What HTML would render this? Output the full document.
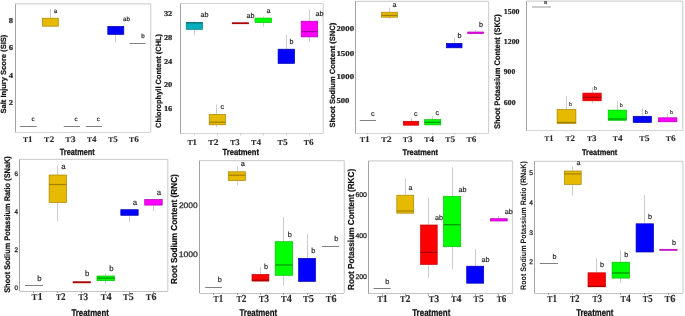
<!DOCTYPE html>
<html><head><meta charset="utf-8"><style>
html,body{margin:0;padding:0;background:#fff;}
body{width:685px;height:316px;overflow:hidden;font-family:"Liberation Sans",sans-serif;}
svg{text-rendering:geometricPrecision;}
#w{width:685px;height:316px;will-change:transform;}
svg{display:block;}
</style></head><body>
<div id="w"><svg width="685" height="316" viewBox="0 0 685 316">
<rect x="0" y="0" width="685" height="316" fill="#fff"/>
<g>
<line x1="15.3" y1="3.8" x2="150.7" y2="3.8" stroke="#d2d2d2" stroke-width="1.2"/>
<line x1="150.7" y1="3.8" x2="150.7" y2="132.2" stroke="#d2d2d2" stroke-width="1.2"/>
<line x1="15.3" y1="132.5" x2="150.7" y2="132.5" stroke="#d6d6d6" stroke-width="1"/>
<line x1="15.5" y1="3.8" x2="15.5" y2="132.2" stroke="#a4a4a4" stroke-width="1"/>
<line x1="28.5" y1="132.2" x2="28.5" y2="133.2" stroke="#dddddd" stroke-width="1"/>
<line x1="50.5" y1="132.2" x2="50.5" y2="133.2" stroke="#dddddd" stroke-width="1"/>
<line x1="71.5" y1="132.2" x2="71.5" y2="133.2" stroke="#dddddd" stroke-width="1"/>
<line x1="93.5" y1="132.2" x2="93.5" y2="133.2" stroke="#dddddd" stroke-width="1"/>
<line x1="115.5" y1="132.2" x2="115.5" y2="133.2" stroke="#dddddd" stroke-width="1"/>
<line x1="137.5" y1="132.2" x2="137.5" y2="133.2" stroke="#dddddd" stroke-width="1"/>
<text x="8.8" y="22.7" font-family="Liberation Serif" font-size="7.5" font-weight="bold" fill="#222" textLength="4.3" lengthAdjust="spacingAndGlyphs" stroke="#222" stroke-width="0.2">8</text>
<text x="8.8" y="50.3" font-family="Liberation Serif" font-size="7.5" font-weight="bold" fill="#222" textLength="4.3" lengthAdjust="spacingAndGlyphs" stroke="#222" stroke-width="0.2">6</text>
<text x="8.8" y="77.9" font-family="Liberation Serif" font-size="7.5" font-weight="bold" fill="#222" textLength="4.3" lengthAdjust="spacingAndGlyphs" stroke="#222" stroke-width="0.2">4</text>
<text x="8.8" y="105.2" font-family="Liberation Serif" font-size="7.5" font-weight="bold" fill="#222" textLength="4.3" lengthAdjust="spacingAndGlyphs" stroke="#222" stroke-width="0.2">2</text>
<text x="0" y="0" font-family="Liberation Sans" font-size="7.5" font-weight="bold" fill="#111" stroke="#111" stroke-width="0.2" textLength="78.8" lengthAdjust="spacingAndGlyphs" transform="translate(6.4 113.5) rotate(-90)">Salt Injury Score (SIS)</text>
<line x1="19.8" y1="126.5" x2="36.7" y2="126.5" stroke="#808080" stroke-width="1"/>
<text x="33.1" y="121.1" font-family="Liberation Sans" font-size="6.2" fill="#1a1a1a" text-anchor="middle" stroke="#1a1a1a" stroke-width="0.15">c</text>
<line x1="50.5" y1="9.1" x2="50.5" y2="17.9" stroke="#c6c6c6" stroke-width="0.9"/>
<rect x="42.4" y="18.2" width="15.9" height="8.0" fill="#e6ba00" stroke="#a88400" stroke-width="0.7"/>
<text x="55.5" y="12.9" font-family="Liberation Sans" font-size="6.2" fill="#1a1a1a" text-anchor="middle" stroke="#1a1a1a" stroke-width="0.15">a</text>
<line x1="63.7" y1="126.5" x2="80.0" y2="126.5" stroke="#808080" stroke-width="1"/>
<text x="76.0" y="121.1" font-family="Liberation Sans" font-size="6.2" fill="#1a1a1a" text-anchor="middle" stroke="#1a1a1a" stroke-width="0.15">c</text>
<line x1="85.8" y1="126.5" x2="102.0" y2="126.5" stroke="#808080" stroke-width="1"/>
<text x="98.3" y="121.2" font-family="Liberation Sans" font-size="6.2" fill="#1a1a1a" text-anchor="middle" stroke="#1a1a1a" stroke-width="0.15">c</text>
<line x1="115.5" y1="34.7" x2="115.5" y2="42.7" stroke="#c6c6c6" stroke-width="0.9"/>
<rect x="107.8" y="26.4" width="16.0" height="8.0" fill="#0000ff" stroke="#0000b0" stroke-width="0.7"/>
<text x="126.5" y="20.7" font-family="Liberation Sans" font-size="6.2" fill="#1a1a1a" text-anchor="middle" stroke="#1a1a1a" stroke-width="0.15">ab</text>
<line x1="129.5" y1="43.5" x2="145.6" y2="43.5" stroke="#808080" stroke-width="1"/>
<text x="142.9" y="37.8" font-family="Liberation Sans" font-size="6.2" fill="#1a1a1a" text-anchor="middle" stroke="#1a1a1a" stroke-width="0.15">b</text>
<text x="23.0" y="142.1" font-family="Liberation Serif" font-weight="bold" fill="#2a2a2a" stroke="#2a2a2a" stroke-width="0.1" textLength="9.6" lengthAdjust="spacingAndGlyphs"><tspan font-size="7.3">T</tspan><tspan font-size="8.6">1</tspan></text>
<text x="44.1" y="142.1" font-family="Liberation Serif" font-weight="bold" fill="#2a2a2a" stroke="#2a2a2a" stroke-width="0.1" textLength="10.2" lengthAdjust="spacingAndGlyphs"><tspan font-size="7.3">T</tspan><tspan font-size="8.6">2</tspan></text>
<text x="65.2" y="142.1" font-family="Liberation Serif" font-weight="bold" fill="#2a2a2a" stroke="#2a2a2a" stroke-width="0.1" textLength="10.4" lengthAdjust="spacingAndGlyphs"><tspan font-size="7.3">T</tspan><tspan font-size="8.6">3</tspan></text>
<text x="87.0" y="142.1" font-family="Liberation Serif" font-weight="bold" fill="#2a2a2a" stroke="#2a2a2a" stroke-width="0.1" textLength="9.5" lengthAdjust="spacingAndGlyphs"><tspan font-size="7.3">T</tspan><tspan font-size="8.6">4</tspan></text>
<text x="108.2" y="142.1" font-family="Liberation Serif" font-weight="bold" fill="#2a2a2a" stroke="#2a2a2a" stroke-width="0.1" textLength="9.6" lengthAdjust="spacingAndGlyphs"><tspan font-size="7.3">T</tspan><tspan font-size="8.6">5</tspan></text>
<text x="129.1" y="142.1" font-family="Liberation Serif" font-weight="bold" fill="#2a2a2a" stroke="#2a2a2a" stroke-width="0.1" textLength="9.9" lengthAdjust="spacingAndGlyphs"><tspan font-size="7.3">T</tspan><tspan font-size="8.6">6</tspan></text>
<text x="59.8" y="155.1" font-family="Liberation Sans" font-size="9.1" font-weight="bold" fill="#111" textLength="34.9" lengthAdjust="spacingAndGlyphs" stroke="#111" stroke-width="0.25">Treatment</text>
<line x1="180.4" y1="3.5" x2="323.2" y2="3.5" stroke="#d2d2d2" stroke-width="1.2"/>
<line x1="323.2" y1="3.5" x2="323.2" y2="133.8" stroke="#d2d2d2" stroke-width="1.2"/>
<line x1="180.4" y1="133.5" x2="323.2" y2="133.5" stroke="#d6d6d6" stroke-width="1"/>
<line x1="180.5" y1="3.5" x2="180.5" y2="133.8" stroke="#a4a4a4" stroke-width="1"/>
<line x1="194.5" y1="133.8" x2="194.5" y2="135.3" stroke="#cccccc" stroke-width="1"/>
<line x1="217.5" y1="133.8" x2="217.5" y2="135.3" stroke="#cccccc" stroke-width="1"/>
<line x1="240.5" y1="133.8" x2="240.5" y2="135.3" stroke="#cccccc" stroke-width="1"/>
<line x1="263.5" y1="133.8" x2="263.5" y2="135.3" stroke="#cccccc" stroke-width="1"/>
<line x1="286.5" y1="133.8" x2="286.5" y2="135.3" stroke="#cccccc" stroke-width="1"/>
<line x1="309.5" y1="133.8" x2="309.5" y2="135.3" stroke="#cccccc" stroke-width="1"/>
<text x="163.9" y="15.6" font-family="Liberation Serif" font-size="7.5" font-weight="bold" fill="#222" textLength="8.4" lengthAdjust="spacingAndGlyphs" stroke="#222" stroke-width="0.2">32</text>
<text x="163.9" y="40.2" font-family="Liberation Serif" font-size="7.5" font-weight="bold" fill="#222" textLength="8.4" lengthAdjust="spacingAndGlyphs" stroke="#222" stroke-width="0.2">28</text>
<text x="163.9" y="63.5" font-family="Liberation Serif" font-size="7.5" font-weight="bold" fill="#222" textLength="8.4" lengthAdjust="spacingAndGlyphs" stroke="#222" stroke-width="0.2">24</text>
<text x="163.9" y="87.0" font-family="Liberation Serif" font-size="7.5" font-weight="bold" fill="#222" textLength="8.4" lengthAdjust="spacingAndGlyphs" stroke="#222" stroke-width="0.2">20</text>
<text x="163.9" y="111.0" font-family="Liberation Serif" font-size="7.5" font-weight="bold" fill="#222" textLength="8.4" lengthAdjust="spacingAndGlyphs" stroke="#222" stroke-width="0.2">16</text>
<text x="0" y="0" font-family="Liberation Sans" font-size="7.6" font-weight="bold" fill="#111" stroke="#111" stroke-width="0.2" textLength="94.1" lengthAdjust="spacingAndGlyphs" transform="translate(161.0 128.0) rotate(-90)">Chlorophyll Content (CHL)</text>
<line x1="194.5" y1="21.3" x2="194.5" y2="22.2" stroke="#c6c6c6" stroke-width="0.9"/>
<line x1="194.5" y1="29.7" x2="194.5" y2="35.1" stroke="#c6c6c6" stroke-width="0.9"/>
<rect x="186.2" y="22.6" width="16.4" height="6.8" fill="#04aebc" stroke="#0f7f89" stroke-width="0.7"/>
<line x1="186.1" y1="22.8" x2="202.6" y2="22.8" stroke="#0b6d75" stroke-width="1.2"/>
<text x="204.6" y="17.3" font-family="Liberation Sans" font-size="7.2" fill="#1a1a1a" text-anchor="middle" stroke="#1a1a1a" stroke-width="0.15">ab</text>
<line x1="216.5" y1="104.5" x2="216.5" y2="114.1" stroke="#c6c6c6" stroke-width="0.9"/>
<line x1="216.5" y1="125.2" x2="216.5" y2="127.2" stroke="#c6c6c6" stroke-width="0.9"/>
<rect x="209.2" y="114.4" width="16.3" height="10.4" fill="#e6ba00" stroke="#a88400" stroke-width="0.7"/>
<line x1="209.1" y1="122.2" x2="225.5" y2="122.2" stroke="#a08000" stroke-width="1.2"/>
<text x="222.2" y="108.6" font-family="Liberation Sans" font-size="7.2" fill="#1a1a1a" text-anchor="middle" stroke="#1a1a1a" stroke-width="0.15">c</text>
<rect x="231.9" y="22.3" width="17.0" height="1.8" fill="#b00000"/>
<text x="250.4" y="18.0" font-family="Liberation Sans" font-size="7.2" fill="#1a1a1a" text-anchor="middle" stroke="#1a1a1a" stroke-width="0.15">ab</text>
<line x1="263.5" y1="16.5" x2="263.5" y2="17.7" stroke="#c6c6c6" stroke-width="0.9"/>
<line x1="263.5" y1="22.8" x2="263.5" y2="26.6" stroke="#c6c6c6" stroke-width="0.9"/>
<rect x="255.0" y="18.1" width="16.5" height="4.4" fill="#00ff00" stroke="#00c000" stroke-width="0.7"/>
<text x="268.5" y="12.5" font-family="Liberation Sans" font-size="7.2" fill="#1a1a1a" text-anchor="middle" stroke="#1a1a1a" stroke-width="0.15">a</text>
<line x1="286.5" y1="34.7" x2="286.5" y2="48.9" stroke="#c6c6c6" stroke-width="0.9"/>
<rect x="278.1" y="49.2" width="16.5" height="14.2" fill="#0000ff" stroke="#0000b0" stroke-width="0.7"/>
<text x="291.5" y="44.1" font-family="Liberation Sans" font-size="7.2" fill="#1a1a1a" text-anchor="middle" stroke="#1a1a1a" stroke-width="0.15">b</text>
<line x1="309.5" y1="9.4" x2="309.5" y2="20.8" stroke="#c6c6c6" stroke-width="0.9"/>
<line x1="309.5" y1="37.2" x2="309.5" y2="41.8" stroke="#c6c6c6" stroke-width="0.9"/>
<rect x="301.2" y="21.2" width="16.5" height="15.7" fill="#ff00ff" stroke="#b000b0" stroke-width="0.7"/>
<line x1="301.2" y1="31.6" x2="317.8" y2="31.6" stroke="#a000a0" stroke-width="1.2"/>
<text x="319.4" y="15.5" font-family="Liberation Sans" font-size="7.2" fill="#1a1a1a" text-anchor="middle" stroke="#1a1a1a" stroke-width="0.15">ab</text>
<text x="187.4" y="145.0" font-family="Liberation Serif" font-weight="bold" fill="#2a2a2a" stroke="#2a2a2a" stroke-width="0.1" textLength="9.6" lengthAdjust="spacingAndGlyphs"><tspan font-size="7.5">T</tspan><tspan font-size="8.8">1</tspan></text>
<text x="208.2" y="145.0" font-family="Liberation Serif" font-weight="bold" fill="#2a2a2a" stroke="#2a2a2a" stroke-width="0.1" textLength="10.3" lengthAdjust="spacingAndGlyphs"><tspan font-size="7.5">T</tspan><tspan font-size="8.8">2</tspan></text>
<text x="230.2" y="145.0" font-family="Liberation Serif" font-weight="bold" fill="#2a2a2a" stroke="#2a2a2a" stroke-width="0.1" textLength="9.5" lengthAdjust="spacingAndGlyphs"><tspan font-size="7.5">T</tspan><tspan font-size="8.8">3</tspan></text>
<text x="251.1" y="145.0" font-family="Liberation Serif" font-weight="bold" fill="#2a2a2a" stroke="#2a2a2a" stroke-width="0.1" textLength="10.0" lengthAdjust="spacingAndGlyphs"><tspan font-size="7.5">T</tspan><tspan font-size="8.8">4</tspan></text>
<text x="277.6" y="145.0" font-family="Liberation Serif" font-weight="bold" fill="#2a2a2a" stroke="#2a2a2a" stroke-width="0.1" textLength="10.1" lengthAdjust="spacingAndGlyphs"><tspan font-size="7.5">T</tspan><tspan font-size="8.8">5</tspan></text>
<text x="303.8" y="145.0" font-family="Liberation Serif" font-weight="bold" fill="#2a2a2a" stroke="#2a2a2a" stroke-width="0.1" textLength="9.9" lengthAdjust="spacingAndGlyphs"><tspan font-size="7.5">T</tspan><tspan font-size="8.8">6</tspan></text>
<text x="222.5" y="155.0" font-family="Liberation Sans" font-size="8.8" font-weight="bold" fill="#111" textLength="36.5" lengthAdjust="spacingAndGlyphs" stroke="#111" stroke-width="0.25">Treatment</text>
<line x1="355.0" y1="1.3" x2="488.6" y2="1.3" stroke="#d2d2d2" stroke-width="1.2"/>
<line x1="488.6" y1="1.3" x2="488.6" y2="133.2" stroke="#d2d2d2" stroke-width="1.2"/>
<line x1="355.0" y1="133.5" x2="488.6" y2="133.5" stroke="#d6d6d6" stroke-width="1"/>
<line x1="355.5" y1="1.3" x2="355.5" y2="133.2" stroke="#a4a4a4" stroke-width="1"/>
<line x1="367.5" y1="133.2" x2="367.5" y2="134.7" stroke="#cccccc" stroke-width="1"/>
<line x1="389.5" y1="133.2" x2="389.5" y2="134.7" stroke="#cccccc" stroke-width="1"/>
<line x1="411.5" y1="133.2" x2="411.5" y2="134.7" stroke="#cccccc" stroke-width="1"/>
<line x1="432.5" y1="133.2" x2="432.5" y2="134.7" stroke="#cccccc" stroke-width="1"/>
<line x1="454.5" y1="133.2" x2="454.5" y2="134.7" stroke="#cccccc" stroke-width="1"/>
<line x1="475.5" y1="133.2" x2="475.5" y2="134.7" stroke="#cccccc" stroke-width="1"/>
<text x="336.4" y="30.8" font-family="Liberation Serif" font-size="7.5" font-weight="bold" fill="#222" textLength="17.7" lengthAdjust="spacingAndGlyphs" stroke="#222" stroke-width="0.2">2000</text>
<text x="336.4" y="55.9" font-family="Liberation Serif" font-size="7.5" font-weight="bold" fill="#222" textLength="17.9" lengthAdjust="spacingAndGlyphs" stroke="#222" stroke-width="0.2">1500</text>
<text x="336.4" y="78.6" font-family="Liberation Serif" font-size="7.5" font-weight="bold" fill="#222" textLength="17.7" lengthAdjust="spacingAndGlyphs" stroke="#222" stroke-width="0.2">1000</text>
<text x="336.4" y="102.7" font-family="Liberation Serif" font-size="7.5" font-weight="bold" fill="#222" textLength="13.1" lengthAdjust="spacingAndGlyphs" stroke="#222" stroke-width="0.2">500</text>
<text x="0" y="0" font-family="Liberation Sans" font-size="7.6" font-weight="bold" fill="#111" stroke="#111" stroke-width="0.2" textLength="104.7" lengthAdjust="spacingAndGlyphs" transform="translate(334.9 127.5) rotate(-90)">Shoot Sodium Content (SNC)</text>
<line x1="359.8" y1="120.5" x2="376.0" y2="120.5" stroke="#808080" stroke-width="1"/>
<text x="372.7" y="115.7" font-family="Liberation Sans" font-size="7.2" fill="#1a1a1a" text-anchor="middle" stroke="#1a1a1a" stroke-width="0.15">c</text>
<line x1="389.5" y1="7.6" x2="389.5" y2="11.8" stroke="#c6c6c6" stroke-width="0.9"/>
<line x1="389.5" y1="17.5" x2="389.5" y2="18.8" stroke="#c6c6c6" stroke-width="0.9"/>
<rect x="381.5" y="12.2" width="16.0" height="5.0" fill="#e6ba00" stroke="#a88400" stroke-width="0.7"/>
<line x1="381.4" y1="15.4" x2="397.5" y2="15.4" stroke="#a08000" stroke-width="1.2"/>
<text x="394.5" y="6.5" font-family="Liberation Sans" font-size="7.2" fill="#1a1a1a" text-anchor="middle" stroke="#1a1a1a" stroke-width="0.15">a</text>
<line x1="411.5" y1="118.0" x2="411.5" y2="121.0" stroke="#c6c6c6" stroke-width="0.9"/>
<rect x="403.4" y="121.3" width="15.3" height="3.9" fill="#ff0000" stroke="#c00000" stroke-width="0.7"/>
<text x="415.8" y="115.8" font-family="Liberation Sans" font-size="7.2" fill="#1a1a1a" text-anchor="middle" stroke="#1a1a1a" stroke-width="0.15">c</text>
<line x1="432.5" y1="116.0" x2="432.5" y2="119.3" stroke="#c6c6c6" stroke-width="0.9"/>
<rect x="424.7" y="119.6" width="16.0" height="5.3" fill="#00ff00" stroke="#00c000" stroke-width="0.7"/>
<line x1="424.6" y1="122.3" x2="440.7" y2="122.3" stroke="#009000" stroke-width="1.2"/>
<text x="437.3" y="114.5" font-family="Liberation Sans" font-size="7.2" fill="#1a1a1a" text-anchor="middle" stroke="#1a1a1a" stroke-width="0.15">c</text>
<line x1="454.5" y1="37.5" x2="454.5" y2="43.0" stroke="#c6c6c6" stroke-width="0.9"/>
<rect x="446.5" y="43.4" width="15.5" height="4.4" fill="#0000ff" stroke="#0000b0" stroke-width="0.7"/>
<text x="459.6" y="37.8" font-family="Liberation Sans" font-size="7.2" fill="#1a1a1a" text-anchor="middle" stroke="#1a1a1a" stroke-width="0.15">b</text>
<line x1="475.5" y1="29.9" x2="475.5" y2="31.6" stroke="#c6c6c6" stroke-width="0.9"/>
<rect x="467.7" y="32.0" width="15.8" height="1.6" fill="#ff00ff" stroke="#b000b0" stroke-width="0.7"/>
<text x="481.1" y="27.1" font-family="Liberation Sans" font-size="7.2" fill="#1a1a1a" text-anchor="middle" stroke="#1a1a1a" stroke-width="0.15">b</text>
<text x="359.8" y="141.5" font-family="Liberation Serif" font-weight="bold" fill="#2a2a2a" stroke="#2a2a2a" stroke-width="0.1" textLength="10.0" lengthAdjust="spacingAndGlyphs"><tspan font-size="7.3">T</tspan><tspan font-size="8.6">1</tspan></text>
<text x="381.2" y="141.5" font-family="Liberation Serif" font-weight="bold" fill="#2a2a2a" stroke="#2a2a2a" stroke-width="0.1" textLength="10.5" lengthAdjust="spacingAndGlyphs"><tspan font-size="7.3">T</tspan><tspan font-size="8.6">2</tspan></text>
<text x="402.7" y="141.5" font-family="Liberation Serif" font-weight="bold" fill="#2a2a2a" stroke="#2a2a2a" stroke-width="0.1" textLength="9.8" lengthAdjust="spacingAndGlyphs"><tspan font-size="7.3">T</tspan><tspan font-size="8.6">3</tspan></text>
<text x="424.2" y="141.5" font-family="Liberation Serif" font-weight="bold" fill="#2a2a2a" stroke="#2a2a2a" stroke-width="0.1" textLength="9.8" lengthAdjust="spacingAndGlyphs"><tspan font-size="7.3">T</tspan><tspan font-size="8.6">4</tspan></text>
<text x="445.2" y="141.5" font-family="Liberation Serif" font-weight="bold" fill="#2a2a2a" stroke="#2a2a2a" stroke-width="0.1" textLength="9.8" lengthAdjust="spacingAndGlyphs"><tspan font-size="7.3">T</tspan><tspan font-size="8.6">5</tspan></text>
<text x="466.5" y="141.5" font-family="Liberation Serif" font-weight="bold" fill="#2a2a2a" stroke="#2a2a2a" stroke-width="0.1" textLength="9.8" lengthAdjust="spacingAndGlyphs"><tspan font-size="7.3">T</tspan><tspan font-size="8.6">6</tspan></text>
<text x="402.5" y="155.2" font-family="Liberation Sans" font-size="8.2" font-weight="bold" fill="#111" textLength="35.5" lengthAdjust="spacingAndGlyphs" stroke="#111" stroke-width="0.25">Treatment</text>
<line x1="526.5" y1="1.2" x2="682.8" y2="1.2" stroke="#d2d2d2" stroke-width="1.2"/>
<line x1="682.8" y1="1.2" x2="682.8" y2="130.8" stroke="#d2d2d2" stroke-width="1.2"/>
<line x1="526.5" y1="130.5" x2="682.8" y2="130.5" stroke="#d6d6d6" stroke-width="1"/>
<line x1="526.5" y1="1.2" x2="526.5" y2="130.8" stroke="#a4a4a4" stroke-width="1"/>
<line x1="541.5" y1="130.8" x2="541.5" y2="131.8" stroke="#dddddd" stroke-width="1"/>
<line x1="566.5" y1="130.8" x2="566.5" y2="131.8" stroke="#dddddd" stroke-width="1"/>
<line x1="592.5" y1="130.8" x2="592.5" y2="131.8" stroke="#dddddd" stroke-width="1"/>
<line x1="617.5" y1="130.8" x2="617.5" y2="131.8" stroke="#dddddd" stroke-width="1"/>
<line x1="642.5" y1="130.8" x2="642.5" y2="131.8" stroke="#dddddd" stroke-width="1"/>
<line x1="667.5" y1="130.8" x2="667.5" y2="131.8" stroke="#dddddd" stroke-width="1"/>
<text x="503.8" y="14.1" font-family="Liberation Serif" font-size="7.5" font-weight="bold" fill="#222" textLength="15.7" lengthAdjust="spacingAndGlyphs" stroke="#222" stroke-width="0.2">1500</text>
<text x="503.8" y="43.6" font-family="Liberation Serif" font-size="7.5" font-weight="bold" fill="#222" textLength="15.7" lengthAdjust="spacingAndGlyphs" stroke="#222" stroke-width="0.2">1200</text>
<text x="503.8" y="74.2" font-family="Liberation Serif" font-size="7.5" font-weight="bold" fill="#222" textLength="11.4" lengthAdjust="spacingAndGlyphs" stroke="#222" stroke-width="0.2">900</text>
<text x="503.8" y="104.7" font-family="Liberation Serif" font-size="7.5" font-weight="bold" fill="#222" textLength="11.9" lengthAdjust="spacingAndGlyphs" stroke="#222" stroke-width="0.2">600</text>
<text x="0" y="0" font-family="Liberation Sans" font-size="8.1" font-weight="bold" fill="#111" stroke="#111" stroke-width="0.2" textLength="114.8" lengthAdjust="spacingAndGlyphs" transform="translate(500.4 129.0) rotate(-90)">Shoot Potassium Content (SKC)</text>
<line x1="532.0" y1="7.0" x2="551.0" y2="7.0" stroke="#c8c8c8" stroke-width="1.8"/>
<text x="545.5" y="3.6" font-family="Liberation Sans" font-size="5.4" fill="#1a1a1a" text-anchor="middle" stroke="#1a1a1a" stroke-width="0.15">a</text>
<line x1="566.5" y1="96.2" x2="566.5" y2="109.1" stroke="#c6c6c6" stroke-width="0.9"/>
<rect x="557.1" y="109.4" width="18.8" height="14.2" fill="#e6ba00" stroke="#a88400" stroke-width="0.7"/>
<line x1="557.1" y1="122.4" x2="576.0" y2="122.4" stroke="#a08000" stroke-width="1.2"/>
<text x="570.5" y="106.1" font-family="Liberation Sans" font-size="5.4" fill="#1a1a1a" text-anchor="middle" stroke="#1a1a1a" stroke-width="0.15">b</text>
<line x1="592.5" y1="87.3" x2="592.5" y2="92.8" stroke="#c6c6c6" stroke-width="0.9"/>
<line x1="592.5" y1="101.2" x2="592.5" y2="103.4" stroke="#c6c6c6" stroke-width="0.9"/>
<rect x="582.9" y="93.1" width="18.3" height="7.7" fill="#ff0000" stroke="#c00000" stroke-width="0.7"/>
<line x1="582.8" y1="97.3" x2="601.2" y2="97.3" stroke="#a00000" stroke-width="1.2"/>
<text x="595.4" y="89.8" font-family="Liberation Sans" font-size="5.4" fill="#1a1a1a" text-anchor="middle" stroke="#1a1a1a" stroke-width="0.15">b</text>
<line x1="617.5" y1="100.6" x2="617.5" y2="109.8" stroke="#c6c6c6" stroke-width="0.9"/>
<rect x="608.2" y="110.1" width="18.2" height="10.2" fill="#00ff00" stroke="#00c000" stroke-width="0.7"/>
<line x1="608.2" y1="119.0" x2="626.5" y2="119.0" stroke="#009000" stroke-width="1.2"/>
<text x="621.2" y="107.4" font-family="Liberation Sans" font-size="5.4" fill="#1a1a1a" text-anchor="middle" stroke="#1a1a1a" stroke-width="0.15">b</text>
<line x1="642.5" y1="108.4" x2="642.5" y2="116.0" stroke="#c6c6c6" stroke-width="0.9"/>
<rect x="633.2" y="116.3" width="18.3" height="6.2" fill="#0000ff" stroke="#0000b0" stroke-width="0.7"/>
<text x="646.3" y="113.5" font-family="Liberation Sans" font-size="5.4" fill="#1a1a1a" text-anchor="middle" stroke="#1a1a1a" stroke-width="0.15">b</text>
<line x1="667.5" y1="113.2" x2="667.5" y2="117.4" stroke="#c6c6c6" stroke-width="0.9"/>
<rect x="658.4" y="117.8" width="18.5" height="4.0" fill="#ff00ff" stroke="#b000b0" stroke-width="0.7"/>
<text x="671.4" y="114.4" font-family="Liberation Sans" font-size="5.4" fill="#1a1a1a" text-anchor="middle" stroke="#1a1a1a" stroke-width="0.15">b</text>
<text x="544.4" y="140.9" font-family="Liberation Serif" font-weight="bold" fill="#2a2a2a" stroke="#2a2a2a" stroke-width="0.1" textLength="8.9" lengthAdjust="spacingAndGlyphs"><tspan font-size="7.3">T</tspan><tspan font-size="8.6">1</tspan></text>
<text x="565.4" y="140.9" font-family="Liberation Serif" font-weight="bold" fill="#2a2a2a" stroke="#2a2a2a" stroke-width="0.1" textLength="9.7" lengthAdjust="spacingAndGlyphs"><tspan font-size="7.3">T</tspan><tspan font-size="8.6">2</tspan></text>
<text x="586.9" y="140.9" font-family="Liberation Serif" font-weight="bold" fill="#2a2a2a" stroke="#2a2a2a" stroke-width="0.1" textLength="9.6" lengthAdjust="spacingAndGlyphs"><tspan font-size="7.3">T</tspan><tspan font-size="8.6">3</tspan></text>
<text x="612.8" y="140.9" font-family="Liberation Serif" font-weight="bold" fill="#2a2a2a" stroke="#2a2a2a" stroke-width="0.1" textLength="9.9" lengthAdjust="spacingAndGlyphs"><tspan font-size="7.3">T</tspan><tspan font-size="8.6">4</tspan></text>
<text x="639.2" y="140.9" font-family="Liberation Serif" font-weight="bold" fill="#2a2a2a" stroke="#2a2a2a" stroke-width="0.1" textLength="10.3" lengthAdjust="spacingAndGlyphs"><tspan font-size="7.3">T</tspan><tspan font-size="8.6">5</tspan></text>
<text x="665.7" y="140.9" font-family="Liberation Serif" font-weight="bold" fill="#2a2a2a" stroke="#2a2a2a" stroke-width="0.1" textLength="9.9" lengthAdjust="spacingAndGlyphs"><tspan font-size="7.3">T</tspan><tspan font-size="8.6">6</tspan></text>
<text x="582.0" y="155.0" font-family="Liberation Sans" font-size="8.2" font-weight="bold" fill="#111" textLength="35.3" lengthAdjust="spacingAndGlyphs" stroke="#111" stroke-width="0.25">Treatment</text>
<line x1="19.5" y1="159.3" x2="167.8" y2="159.3" stroke="#d2d2d2" stroke-width="1.2"/>
<line x1="167.8" y1="159.3" x2="167.8" y2="291.2" stroke="#d2d2d2" stroke-width="1.2"/>
<line x1="19.5" y1="291.5" x2="167.8" y2="291.5" stroke="#c4c4c4" stroke-width="1"/>
<line x1="19.5" y1="159.3" x2="19.5" y2="291.2" stroke="#a4a4a4" stroke-width="1"/>
<line x1="33.5" y1="291.2" x2="33.5" y2="293.2" stroke="#a0a0a0" stroke-width="1"/>
<line x1="57.5" y1="291.2" x2="57.5" y2="293.2" stroke="#a0a0a0" stroke-width="1"/>
<line x1="81.5" y1="291.2" x2="81.5" y2="293.2" stroke="#a0a0a0" stroke-width="1"/>
<line x1="105.5" y1="291.2" x2="105.5" y2="293.2" stroke="#a0a0a0" stroke-width="1"/>
<line x1="129.5" y1="291.2" x2="129.5" y2="293.2" stroke="#a0a0a0" stroke-width="1"/>
<line x1="153.5" y1="291.2" x2="153.5" y2="293.2" stroke="#a0a0a0" stroke-width="1"/>
<text x="14.4" y="175.9" font-family="Liberation Sans" font-size="6.6" font-weight="normal" fill="#222" textLength="3.5" lengthAdjust="spacingAndGlyphs" stroke="#222" stroke-width="0.3">6</text>
<text x="14.4" y="213.8" font-family="Liberation Sans" font-size="6.6" font-weight="normal" fill="#222" textLength="3.5" lengthAdjust="spacingAndGlyphs" stroke="#222" stroke-width="0.3">4</text>
<text x="14.4" y="252.0" font-family="Liberation Sans" font-size="6.6" font-weight="normal" fill="#222" textLength="3.5" lengthAdjust="spacingAndGlyphs" stroke="#222" stroke-width="0.3">2</text>
<text x="14.4" y="290.0" font-family="Liberation Sans" font-size="6.6" font-weight="normal" fill="#222" textLength="3.5" lengthAdjust="spacingAndGlyphs" stroke="#222" stroke-width="0.3">0</text>
<text x="0" y="0" font-family="Liberation Sans" font-size="8.1" font-weight="bold" fill="#111" stroke="#111" stroke-width="0.2" textLength="136.6" lengthAdjust="spacingAndGlyphs" transform="translate(10.4 292.8) rotate(-90)">Shoot Sodium Potassium Ratio (SNaK)</text>
<line x1="25.0" y1="285.5" x2="42.9" y2="285.5" stroke="#808080" stroke-width="1"/>
<text x="39.4" y="280.9" font-family="Liberation Sans" font-size="7.8" fill="#1a1a1a" text-anchor="middle" stroke="#1a1a1a" stroke-width="0.15">b</text>
<line x1="57.5" y1="165.1" x2="57.5" y2="174.7" stroke="#c6c6c6" stroke-width="0.9"/>
<line x1="57.5" y1="203.0" x2="57.5" y2="221.2" stroke="#c6c6c6" stroke-width="0.9"/>
<rect x="49.1" y="175.0" width="17.5" height="27.6" fill="#e6ba00" stroke="#a88400" stroke-width="0.7"/>
<line x1="49.0" y1="184.5" x2="66.6" y2="184.5" stroke="#a08000" stroke-width="1.2"/>
<text x="63.3" y="169.4" font-family="Liberation Sans" font-size="7.8" fill="#1a1a1a" text-anchor="middle" stroke="#1a1a1a" stroke-width="0.15">a</text>
<rect x="72.7" y="281.3" width="18.1" height="1.9" fill="#a80000"/>
<text x="87.2" y="276.3" font-family="Liberation Sans" font-size="7.8" fill="#1a1a1a" text-anchor="middle" stroke="#1a1a1a" stroke-width="0.15">b</text>
<line x1="105.5" y1="273.4" x2="105.5" y2="275.6" stroke="#c6c6c6" stroke-width="0.9"/>
<line x1="105.5" y1="281.0" x2="105.5" y2="283.6" stroke="#c6c6c6" stroke-width="0.9"/>
<rect x="97.0" y="276.0" width="17.4" height="4.7" fill="#00ff00" stroke="#00c000" stroke-width="0.7"/>
<line x1="97.0" y1="278.1" x2="114.5" y2="278.1" stroke="#009000" stroke-width="1.2"/>
<text x="111.3" y="270.7" font-family="Liberation Sans" font-size="7.8" fill="#1a1a1a" text-anchor="middle" stroke="#1a1a1a" stroke-width="0.15">b</text>
<line x1="129.5" y1="215.6" x2="129.5" y2="221.9" stroke="#c6c6c6" stroke-width="0.9"/>
<rect x="120.8" y="209.7" width="17.4" height="5.6" fill="#0000ff" stroke="#0000b0" stroke-width="0.7"/>
<text x="134.9" y="204.5" font-family="Liberation Sans" font-size="7.8" fill="#1a1a1a" text-anchor="middle" stroke="#1a1a1a" stroke-width="0.15">a</text>
<line x1="153.5" y1="205.5" x2="153.5" y2="211.0" stroke="#c6c6c6" stroke-width="0.9"/>
<rect x="144.7" y="199.5" width="17.5" height="5.6" fill="#ff00ff" stroke="#b000b0" stroke-width="0.7"/>
<text x="158.9" y="194.7" font-family="Liberation Sans" font-size="7.8" fill="#1a1a1a" text-anchor="middle" stroke="#1a1a1a" stroke-width="0.15">a</text>
<text x="31.5" y="300.3" font-family="Liberation Serif" font-weight="bold" fill="#2a2a2a" stroke="#2a2a2a" stroke-width="0.1" textLength="11.2" lengthAdjust="spacingAndGlyphs"><tspan font-size="8.9">T</tspan><tspan font-size="10.5">1</tspan></text>
<text x="55.9" y="300.3" font-family="Liberation Serif" font-weight="bold" fill="#2a2a2a" stroke="#2a2a2a" stroke-width="0.1" textLength="9.7" lengthAdjust="spacingAndGlyphs"><tspan font-size="8.9">T</tspan><tspan font-size="10.5">2</tspan></text>
<text x="78.4" y="300.3" font-family="Liberation Serif" font-weight="bold" fill="#2a2a2a" stroke="#2a2a2a" stroke-width="0.1" textLength="9.8" lengthAdjust="spacingAndGlyphs"><tspan font-size="8.9">T</tspan><tspan font-size="10.5">3</tspan></text>
<text x="100.7" y="300.3" font-family="Liberation Serif" font-weight="bold" fill="#2a2a2a" stroke="#2a2a2a" stroke-width="0.1" textLength="11.0" lengthAdjust="spacingAndGlyphs"><tspan font-size="8.9">T</tspan><tspan font-size="10.5">4</tspan></text>
<text x="123.0" y="300.3" font-family="Liberation Serif" font-weight="bold" fill="#2a2a2a" stroke="#2a2a2a" stroke-width="0.1" textLength="10.7" lengthAdjust="spacingAndGlyphs"><tspan font-size="8.9">T</tspan><tspan font-size="10.5">5</tspan></text>
<text x="145.8" y="300.3" font-family="Liberation Serif" font-weight="bold" fill="#2a2a2a" stroke="#2a2a2a" stroke-width="0.1" textLength="10.7" lengthAdjust="spacingAndGlyphs"><tspan font-size="8.9">T</tspan><tspan font-size="10.5">6</tspan></text>
<text x="71.4" y="316.4" font-family="Liberation Sans" font-size="9.7" font-weight="bold" fill="#111" textLength="37.5" lengthAdjust="spacingAndGlyphs" stroke="#111" stroke-width="0.25">Treatment</text>
<line x1="199.7" y1="160.6" x2="344.3" y2="160.6" stroke="#d2d2d2" stroke-width="1.2"/>
<line x1="344.3" y1="160.6" x2="344.3" y2="293.0" stroke="#d2d2d2" stroke-width="1.2"/>
<line x1="199.7" y1="293.5" x2="344.3" y2="293.5" stroke="#c4c4c4" stroke-width="1"/>
<line x1="199.5" y1="160.6" x2="199.5" y2="293.0" stroke="#a4a4a4" stroke-width="1"/>
<line x1="213.5" y1="293.0" x2="213.5" y2="295.0" stroke="#a0a0a0" stroke-width="1"/>
<line x1="237.5" y1="293.0" x2="237.5" y2="295.0" stroke="#a0a0a0" stroke-width="1"/>
<line x1="260.5" y1="293.0" x2="260.5" y2="295.0" stroke="#a0a0a0" stroke-width="1"/>
<line x1="283.5" y1="293.0" x2="283.5" y2="295.0" stroke="#a0a0a0" stroke-width="1"/>
<line x1="307.5" y1="293.0" x2="307.5" y2="295.0" stroke="#a0a0a0" stroke-width="1"/>
<line x1="330.5" y1="293.0" x2="330.5" y2="295.0" stroke="#a0a0a0" stroke-width="1"/>
<text x="178.9" y="207.8" font-family="Liberation Sans" font-size="8.0" font-weight="normal" fill="#222" textLength="18.7" lengthAdjust="spacingAndGlyphs" stroke="#222" stroke-width="0.25">2000</text>
<text x="178.7" y="256.8" font-family="Liberation Sans" font-size="8.0" font-weight="normal" fill="#222" textLength="19.1" lengthAdjust="spacingAndGlyphs" stroke="#222" stroke-width="0.25">1000</text>
<text x="0" y="0" font-family="Liberation Sans" font-size="8.7" font-weight="bold" fill="#111" stroke="#111" stroke-width="0.2" textLength="109.8" lengthAdjust="spacingAndGlyphs" transform="translate(176.5 284.0) rotate(-90)">Root Sodium Content (RNC)</text>
<line x1="205.2" y1="287.5" x2="222.1" y2="287.5" stroke="#808080" stroke-width="1"/>
<text x="219.8" y="282.0" font-family="Liberation Sans" font-size="7.4" fill="#1a1a1a" text-anchor="middle" stroke="#1a1a1a" stroke-width="0.15">b</text>
<line x1="237.5" y1="166.4" x2="237.5" y2="171.4" stroke="#c6c6c6" stroke-width="0.9"/>
<line x1="237.5" y1="180.8" x2="237.5" y2="185.3" stroke="#c6c6c6" stroke-width="0.9"/>
<rect x="228.4" y="171.8" width="17.0" height="8.7" fill="#e6ba00" stroke="#a88400" stroke-width="0.7"/>
<line x1="228.4" y1="175.2" x2="245.5" y2="175.2" stroke="#a08000" stroke-width="1.2"/>
<text x="242.7" y="166.2" font-family="Liberation Sans" font-size="7.4" fill="#1a1a1a" text-anchor="middle" stroke="#1a1a1a" stroke-width="0.15">a</text>
<line x1="260.5" y1="267.1" x2="260.5" y2="274.1" stroke="#c6c6c6" stroke-width="0.9"/>
<rect x="252.0" y="274.5" width="16.9" height="6.6" fill="#ff0000" stroke="#c00000" stroke-width="0.7"/>
<line x1="252.0" y1="280.2" x2="269.0" y2="280.2" stroke="#a00000" stroke-width="1.2"/>
<text x="266.0" y="269.3" font-family="Liberation Sans" font-size="7.4" fill="#1a1a1a" text-anchor="middle" stroke="#1a1a1a" stroke-width="0.15">b</text>
<line x1="283.5" y1="217.0" x2="283.5" y2="241.3" stroke="#c6c6c6" stroke-width="0.9"/>
<line x1="283.5" y1="275.6" x2="283.5" y2="285.3" stroke="#c6c6c6" stroke-width="0.9"/>
<rect x="275.2" y="241.7" width="17.5" height="33.6" fill="#00ff00" stroke="#00c000" stroke-width="0.7"/>
<line x1="275.1" y1="265.0" x2="292.7" y2="265.0" stroke="#009000" stroke-width="1.2"/>
<text x="289.9" y="236.5" font-family="Liberation Sans" font-size="7.4" fill="#1a1a1a" text-anchor="middle" stroke="#1a1a1a" stroke-width="0.15">b</text>
<line x1="307.5" y1="233.7" x2="307.5" y2="258.0" stroke="#c6c6c6" stroke-width="0.9"/>
<rect x="298.6" y="258.4" width="16.9" height="23.0" fill="#0000ff" stroke="#0000b0" stroke-width="0.7"/>
<text x="313.4" y="253.2" font-family="Liberation Sans" font-size="7.4" fill="#1a1a1a" text-anchor="middle" stroke="#1a1a1a" stroke-width="0.15">b</text>
<line x1="321.9" y1="246.5" x2="339.2" y2="246.5" stroke="#808080" stroke-width="1"/>
<text x="336.3" y="241.1" font-family="Liberation Sans" font-size="7.4" fill="#1a1a1a" text-anchor="middle" stroke="#1a1a1a" stroke-width="0.15">b</text>
<text x="213.6" y="302.0" font-family="Liberation Serif" font-weight="bold" fill="#2a2a2a" stroke="#2a2a2a" stroke-width="0.1" textLength="9.6" lengthAdjust="spacingAndGlyphs"><tspan font-size="9.1">T</tspan><tspan font-size="10.8">1</tspan></text>
<text x="236.4" y="302.0" font-family="Liberation Serif" font-weight="bold" fill="#2a2a2a" stroke="#2a2a2a" stroke-width="0.1" textLength="9.9" lengthAdjust="spacingAndGlyphs"><tspan font-size="9.1">T</tspan><tspan font-size="10.8">2</tspan></text>
<text x="258.9" y="302.0" font-family="Liberation Serif" font-weight="bold" fill="#2a2a2a" stroke="#2a2a2a" stroke-width="0.1" textLength="10.2" lengthAdjust="spacingAndGlyphs"><tspan font-size="9.1">T</tspan><tspan font-size="10.8">3</tspan></text>
<text x="281.1" y="302.0" font-family="Liberation Serif" font-weight="bold" fill="#2a2a2a" stroke="#2a2a2a" stroke-width="0.1" textLength="10.8" lengthAdjust="spacingAndGlyphs"><tspan font-size="9.1">T</tspan><tspan font-size="10.8">4</tspan></text>
<text x="303.0" y="302.0" font-family="Liberation Serif" font-weight="bold" fill="#2a2a2a" stroke="#2a2a2a" stroke-width="0.1" textLength="11.1" lengthAdjust="spacingAndGlyphs"><tspan font-size="9.1">T</tspan><tspan font-size="10.8">5</tspan></text>
<text x="325.7" y="302.0" font-family="Liberation Serif" font-weight="bold" fill="#2a2a2a" stroke="#2a2a2a" stroke-width="0.1" textLength="10.9" lengthAdjust="spacingAndGlyphs"><tspan font-size="9.1">T</tspan><tspan font-size="10.8">6</tspan></text>
<text x="239.5" y="316.3" font-family="Liberation Sans" font-size="10.0" font-weight="bold" fill="#111" textLength="37.6" lengthAdjust="spacingAndGlyphs" stroke="#111" stroke-width="0.25">Treatment</text>
<line x1="368.8" y1="160.8" x2="512.5" y2="160.8" stroke="#d2d2d2" stroke-width="1.2"/>
<line x1="512.5" y1="160.8" x2="512.5" y2="293.9" stroke="#d2d2d2" stroke-width="1.2"/>
<line x1="368.8" y1="293.5" x2="512.5" y2="293.5" stroke="#c4c4c4" stroke-width="1"/>
<line x1="368.5" y1="160.8" x2="368.5" y2="293.9" stroke="#a4a4a4" stroke-width="1"/>
<line x1="382.5" y1="293.9" x2="382.5" y2="295.9" stroke="#a0a0a0" stroke-width="1"/>
<line x1="405.5" y1="293.9" x2="405.5" y2="295.9" stroke="#a0a0a0" stroke-width="1"/>
<line x1="428.5" y1="293.9" x2="428.5" y2="295.9" stroke="#a0a0a0" stroke-width="1"/>
<line x1="452.5" y1="293.9" x2="452.5" y2="295.9" stroke="#a0a0a0" stroke-width="1"/>
<line x1="475.5" y1="293.9" x2="475.5" y2="295.9" stroke="#a0a0a0" stroke-width="1"/>
<line x1="498.5" y1="293.9" x2="498.5" y2="295.9" stroke="#a0a0a0" stroke-width="1"/>
<text x="355.4" y="196.6" font-family="Liberation Sans" font-size="6.9" font-weight="normal" fill="#222" textLength="11.5" lengthAdjust="spacingAndGlyphs" stroke="#222" stroke-width="0.25">600</text>
<text x="355.4" y="237.9" font-family="Liberation Sans" font-size="6.9" font-weight="normal" fill="#222" textLength="11.5" lengthAdjust="spacingAndGlyphs" stroke="#222" stroke-width="0.25">400</text>
<text x="355.4" y="279.2" font-family="Liberation Sans" font-size="6.9" font-weight="normal" fill="#222" textLength="11.5" lengthAdjust="spacingAndGlyphs" stroke="#222" stroke-width="0.25">200</text>
<text x="0" y="0" font-family="Liberation Sans" font-size="8.7" font-weight="bold" fill="#111" stroke="#111" stroke-width="0.2" textLength="121.2" lengthAdjust="spacingAndGlyphs" transform="translate(353.9 290.0) rotate(-90)">Root Potassium Content (RKC)</text>
<line x1="373.6" y1="288.5" x2="390.7" y2="288.5" stroke="#808080" stroke-width="1"/>
<text x="387.3" y="284.1" font-family="Liberation Sans" font-size="7.2" fill="#1a1a1a" text-anchor="middle" stroke="#1a1a1a" stroke-width="0.15">b</text>
<line x1="405.5" y1="178.5" x2="405.5" y2="194.9" stroke="#c6c6c6" stroke-width="0.9"/>
<rect x="396.8" y="195.2" width="16.9" height="18.0" fill="#e6ba00" stroke="#a88400" stroke-width="0.7"/>
<line x1="396.7" y1="211.0" x2="413.7" y2="211.0" stroke="#a08000" stroke-width="1.2"/>
<text x="410.4" y="190.2" font-family="Liberation Sans" font-size="7.2" fill="#1a1a1a" text-anchor="middle" stroke="#1a1a1a" stroke-width="0.15">a</text>
<line x1="428.5" y1="197.5" x2="428.5" y2="224.7" stroke="#c6c6c6" stroke-width="0.9"/>
<line x1="428.5" y1="264.8" x2="428.5" y2="277.6" stroke="#c6c6c6" stroke-width="0.9"/>
<rect x="420.6" y="225.0" width="16.6" height="39.4" fill="#ff0000" stroke="#c00000" stroke-width="0.7"/>
<line x1="420.5" y1="252.4" x2="437.2" y2="252.4" stroke="#a00000" stroke-width="1.2"/>
<text x="439.1" y="220.1" font-family="Liberation Sans" font-size="7.2" fill="#1a1a1a" text-anchor="middle" stroke="#1a1a1a" stroke-width="0.15">ab</text>
<line x1="452.5" y1="167.2" x2="452.5" y2="196.0" stroke="#c6c6c6" stroke-width="0.9"/>
<line x1="452.5" y1="247.1" x2="452.5" y2="268.9" stroke="#c6c6c6" stroke-width="0.9"/>
<rect x="443.6" y="196.3" width="17.1" height="50.4" fill="#00ff00" stroke="#00c000" stroke-width="0.7"/>
<line x1="443.5" y1="224.7" x2="460.7" y2="224.7" stroke="#009000" stroke-width="1.2"/>
<text x="462.4" y="192.3" font-family="Liberation Sans" font-size="7.2" fill="#1a1a1a" text-anchor="middle" stroke="#1a1a1a" stroke-width="0.15">ab</text>
<line x1="475.5" y1="249.0" x2="475.5" y2="265.9" stroke="#c6c6c6" stroke-width="0.9"/>
<rect x="466.7" y="266.2" width="17.0" height="17.0" fill="#0000ff" stroke="#0000b0" stroke-width="0.7"/>
<text x="485.4" y="261.6" font-family="Liberation Sans" font-size="7.2" fill="#1a1a1a" text-anchor="middle" stroke="#1a1a1a" stroke-width="0.15">ab</text>
<line x1="498.5" y1="215.8" x2="498.5" y2="218.3" stroke="#c6c6c6" stroke-width="0.9"/>
<rect x="490.4" y="218.7" width="16.8" height="2.3" fill="#ff00ff" stroke="#b000b0" stroke-width="0.7"/>
<text x="508.8" y="214.3" font-family="Liberation Sans" font-size="7.2" fill="#1a1a1a" text-anchor="middle" stroke="#1a1a1a" stroke-width="0.15">ab</text>
<text x="377.3" y="302.0" font-family="Liberation Serif" font-weight="bold" fill="#2a2a2a" stroke="#2a2a2a" stroke-width="0.1" textLength="10.5" lengthAdjust="spacingAndGlyphs"><tspan font-size="8.9">T</tspan><tspan font-size="10.5">1</tspan></text>
<text x="399.9" y="302.0" font-family="Liberation Serif" font-weight="bold" fill="#2a2a2a" stroke="#2a2a2a" stroke-width="0.1" textLength="10.4" lengthAdjust="spacingAndGlyphs"><tspan font-size="8.9">T</tspan><tspan font-size="10.5">2</tspan></text>
<text x="428.7" y="302.0" font-family="Liberation Serif" font-weight="bold" fill="#2a2a2a" stroke="#2a2a2a" stroke-width="0.1" textLength="10.5" lengthAdjust="spacingAndGlyphs"><tspan font-size="8.9">T</tspan><tspan font-size="10.5">3</tspan></text>
<text x="451.0" y="302.0" font-family="Liberation Serif" font-weight="bold" fill="#2a2a2a" stroke="#2a2a2a" stroke-width="0.1" textLength="10.5" lengthAdjust="spacingAndGlyphs"><tspan font-size="8.9">T</tspan><tspan font-size="10.5">4</tspan></text>
<text x="473.6" y="302.0" font-family="Liberation Serif" font-weight="bold" fill="#2a2a2a" stroke="#2a2a2a" stroke-width="0.1" textLength="10.2" lengthAdjust="spacingAndGlyphs"><tspan font-size="8.9">T</tspan><tspan font-size="10.5">5</tspan></text>
<text x="496.7" y="302.0" font-family="Liberation Serif" font-weight="bold" fill="#2a2a2a" stroke="#2a2a2a" stroke-width="0.1" textLength="9.7" lengthAdjust="spacingAndGlyphs"><tspan font-size="8.9">T</tspan><tspan font-size="10.5">6</tspan></text>
<text x="412.2" y="316.3" font-family="Liberation Sans" font-size="10.0" font-weight="bold" fill="#111" textLength="38.1" lengthAdjust="spacingAndGlyphs" stroke="#111" stroke-width="0.25">Treatment</text>
<line x1="534.4" y1="161.3" x2="683.0" y2="161.3" stroke="#d2d2d2" stroke-width="1.2"/>
<line x1="683.0" y1="161.3" x2="683.0" y2="293.0" stroke="#d2d2d2" stroke-width="1.2"/>
<line x1="534.4" y1="293.5" x2="683.0" y2="293.5" stroke="#c4c4c4" stroke-width="1"/>
<line x1="534.5" y1="161.3" x2="534.5" y2="293.0" stroke="#a4a4a4" stroke-width="1"/>
<line x1="548.5" y1="293.0" x2="548.5" y2="295.0" stroke="#a0a0a0" stroke-width="1"/>
<line x1="572.5" y1="293.0" x2="572.5" y2="295.0" stroke="#a0a0a0" stroke-width="1"/>
<line x1="596.5" y1="293.0" x2="596.5" y2="295.0" stroke="#a0a0a0" stroke-width="1"/>
<line x1="620.5" y1="293.0" x2="620.5" y2="295.0" stroke="#a0a0a0" stroke-width="1"/>
<line x1="644.5" y1="293.0" x2="644.5" y2="295.0" stroke="#a0a0a0" stroke-width="1"/>
<line x1="668.5" y1="293.0" x2="668.5" y2="295.0" stroke="#a0a0a0" stroke-width="1"/>
<text x="529.3" y="174.9" font-family="Liberation Sans" font-size="6.8" font-weight="normal" fill="#222" textLength="3.7" lengthAdjust="spacingAndGlyphs" stroke="#222" stroke-width="0.25">5</text>
<text x="529.3" y="205.0" font-family="Liberation Sans" font-size="6.8" font-weight="normal" fill="#222" textLength="3.7" lengthAdjust="spacingAndGlyphs" stroke="#222" stroke-width="0.25">4</text>
<text x="529.3" y="234.7" font-family="Liberation Sans" font-size="6.8" font-weight="normal" fill="#222" textLength="3.7" lengthAdjust="spacingAndGlyphs" stroke="#222" stroke-width="0.25">3</text>
<text x="529.3" y="264.4" font-family="Liberation Sans" font-size="6.8" font-weight="normal" fill="#222" textLength="3.7" lengthAdjust="spacingAndGlyphs" stroke="#222" stroke-width="0.25">2</text>
<text x="0" y="0" font-family="Liberation Sans" font-size="7.9" font-weight="bold" fill="#111" stroke="#111" stroke-width="0" textLength="128.8" lengthAdjust="spacingAndGlyphs" transform="translate(526.0 290.0) rotate(-90)">Root Sodium Potassium Ratio (RNaK)</text>
<line x1="539.8" y1="263.5" x2="558.0" y2="263.5" stroke="#808080" stroke-width="1"/>
<text x="554.6" y="259.1" font-family="Liberation Sans" font-size="7.2" fill="#1a1a1a" text-anchor="middle" stroke="#1a1a1a" stroke-width="0.15">b</text>
<line x1="572.5" y1="166.4" x2="572.5" y2="170.7" stroke="#c6c6c6" stroke-width="0.9"/>
<line x1="572.5" y1="184.8" x2="572.5" y2="195.4" stroke="#c6c6c6" stroke-width="0.9"/>
<rect x="564.5" y="171.0" width="16.7" height="13.4" fill="#e6ba00" stroke="#a88400" stroke-width="0.7"/>
<line x1="564.4" y1="173.9" x2="581.2" y2="173.9" stroke="#a08000" stroke-width="1.2"/>
<text x="578.4" y="165.4" font-family="Liberation Sans" font-size="7.2" fill="#1a1a1a" text-anchor="middle" stroke="#1a1a1a" stroke-width="0.15">a</text>
<line x1="596.5" y1="258.6" x2="596.5" y2="272.4" stroke="#c6c6c6" stroke-width="0.9"/>
<rect x="588.0" y="272.8" width="17.5" height="14.0" fill="#ff0000" stroke="#c00000" stroke-width="0.7"/>
<line x1="587.9" y1="286.3" x2="605.5" y2="286.3" stroke="#a00000" stroke-width="1.2"/>
<text x="602.1" y="267.3" font-family="Liberation Sans" font-size="7.2" fill="#1a1a1a" text-anchor="middle" stroke="#1a1a1a" stroke-width="0.15">b</text>
<line x1="620.5" y1="250.4" x2="620.5" y2="261.8" stroke="#c6c6c6" stroke-width="0.9"/>
<line x1="620.5" y1="278.4" x2="620.5" y2="283.0" stroke="#c6c6c6" stroke-width="0.9"/>
<rect x="612.1" y="262.2" width="17.3" height="15.9" fill="#00ff00" stroke="#00c000" stroke-width="0.7"/>
<line x1="612.1" y1="273.0" x2="629.5" y2="273.0" stroke="#009000" stroke-width="1.2"/>
<text x="626.3" y="257.0" font-family="Liberation Sans" font-size="7.2" fill="#1a1a1a" text-anchor="middle" stroke="#1a1a1a" stroke-width="0.15">b</text>
<line x1="644.5" y1="195.0" x2="644.5" y2="223.4" stroke="#c6c6c6" stroke-width="0.9"/>
<rect x="636.1" y="223.8" width="17.4" height="28.2" fill="#0000ff" stroke="#0000b0" stroke-width="0.7"/>
<text x="650.0" y="218.6" font-family="Liberation Sans" font-size="7.2" fill="#1a1a1a" text-anchor="middle" stroke="#1a1a1a" stroke-width="0.15">b</text>
<rect x="659.8" y="249.3" width="17.3" height="1.0" fill="#ff00ff" stroke="#b000b0" stroke-width="0.7"/>
<text x="673.9" y="244.8" font-family="Liberation Sans" font-size="7.2" fill="#1a1a1a" text-anchor="middle" stroke="#1a1a1a" stroke-width="0.15">b</text>
<text x="547.3" y="302.0" font-family="Liberation Serif" font-weight="bold" fill="#2a2a2a" stroke="#2a2a2a" stroke-width="0.1" textLength="9.7" lengthAdjust="spacingAndGlyphs"><tspan font-size="9.1">T</tspan><tspan font-size="10.8">1</tspan></text>
<text x="569.9" y="302.0" font-family="Liberation Serif" font-weight="bold" fill="#2a2a2a" stroke="#2a2a2a" stroke-width="0.1" textLength="9.6" lengthAdjust="spacingAndGlyphs"><tspan font-size="9.1">T</tspan><tspan font-size="10.8">2</tspan></text>
<text x="592.4" y="302.0" font-family="Liberation Serif" font-weight="bold" fill="#2a2a2a" stroke="#2a2a2a" stroke-width="0.1" textLength="9.7" lengthAdjust="spacingAndGlyphs"><tspan font-size="9.1">T</tspan><tspan font-size="10.8">3</tspan></text>
<text x="620.5" y="302.0" font-family="Liberation Serif" font-weight="bold" fill="#2a2a2a" stroke="#2a2a2a" stroke-width="0.1" textLength="10.2" lengthAdjust="spacingAndGlyphs"><tspan font-size="9.1">T</tspan><tspan font-size="10.8">4</tspan></text>
<text x="642.8" y="302.0" font-family="Liberation Serif" font-weight="bold" fill="#2a2a2a" stroke="#2a2a2a" stroke-width="0.1" textLength="9.9" lengthAdjust="spacingAndGlyphs"><tspan font-size="9.1">T</tspan><tspan font-size="10.8">5</tspan></text>
<text x="664.5" y="302.0" font-family="Liberation Serif" font-weight="bold" fill="#2a2a2a" stroke="#2a2a2a" stroke-width="0.1" textLength="11.1" lengthAdjust="spacingAndGlyphs"><tspan font-size="9.1">T</tspan><tspan font-size="10.8">6</tspan></text>
<text x="576.2" y="316.3" font-family="Liberation Sans" font-size="10.0" font-weight="bold" fill="#111" textLength="37.2" lengthAdjust="spacingAndGlyphs" stroke="#111" stroke-width="0.25">Treatment</text>
</g>
</svg></div>
</body></html>
